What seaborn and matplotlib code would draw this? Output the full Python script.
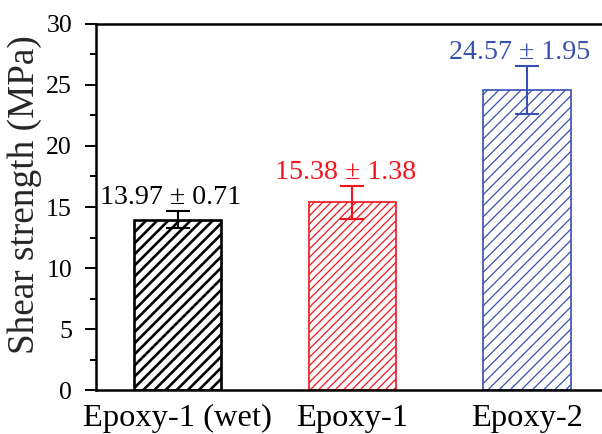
import matplotlib
matplotlib.use("Agg")
import matplotlib.pyplot as plt
from matplotlib.ticker import MultipleLocator
import numpy as np
import pandas as pd
import seaborn as sns

# Lap-shear results
samples = ["Epoxy-1 (wet)", "Epoxy-1", "Epoxy-2"]
strength = [13.97, 15.38, 24.57]
strength_sd = [0.71, 1.38, 1.95]
colors = ["#000000", "#F2141C", "#3A50B0"]
hatches = ["/" * 6, "/" * 8, "/" * 6]
edge_widths = [0.95, 0.6, 0.6]
hatch_widths = [0.95, 0.45, 0.45]

df = pd.DataFrame({"sample": samples, "strength": strength})

sns.set_theme(style="ticks")
plt.rcParams["font.family"] = ["Liberation Serif", "DejaVu Serif"]
plt.rcParams["mathtext.fontset"] = "stix"

fig = plt.figure(figsize=(3.01, 2.17), dpi=200)
ax = fig.add_axes([0.159, 0.101, 0.841, 0.844])

sns.barplot(data=df, x="sample", y="strength", hue="sample",
            palette=dict(zip(samples, colors)), fill=False,
            width=0.5, errorbar=None, legend=False, ax=ax)

for patch, col, h, lw, hw in zip(ax.patches, colors, hatches, edge_widths, hatch_widths):
    patch.set_edgecolor(col)
    patch.set_facecolor("none")
    patch.set_hatch(h)
    patch.set_linewidth(lw)
    if hasattr(patch, "set_hatch_linewidth"):
        patch.set_hatch_linewidth(hw)

for i, (m, s, col) in enumerate(zip(strength, strength_sd, colors)):
    ax.errorbar(i, m, yerr=s, color=col, capsize=4.2, elinewidth=0.75,
                capthick=0.75, fmt="none", zorder=5)
    ax.annotate(f"{m:.2f} ± {s:.2f}", xy=(i, m + s), xytext=(-2.5, 2.5),
                textcoords="offset points", ha="center", va="baseline",
                color=col, fontsize=10.1)

ax.set_xlim(-0.47, 2.43)
ax.set_ylim(0, 30)
ax.yaxis.set_major_locator(MultipleLocator(5))
ax.yaxis.set_minor_locator(MultipleLocator(2.5))
ax.set_xlabel("")
ax.set_ylabel("Shear strength (MPa)", fontsize=13.4)
ax.yaxis.set_label_coords(-0.107, 0.533)

ax.tick_params(axis="y", which="major", direction="out", length=4.0, width=0.7,
               labelsize=9.3, pad=4.5, color="black", labelcolor="black")
ax.tick_params(axis="y", which="minor", direction="out", length=2.2, width=0.7,
               color="black")
ax.tick_params(axis="x", length=0, labelsize=11.7, pad=5, labelcolor="black")

for side in ["left", "bottom", "top"]:
    ax.spines[side].set_visible(True)
    ax.spines[side].set_linewidth(0.9)
    ax.spines[side].set_color("black")
ax.spines["right"].set_visible(False)

fig.savefig("out.png", dpi=200)
